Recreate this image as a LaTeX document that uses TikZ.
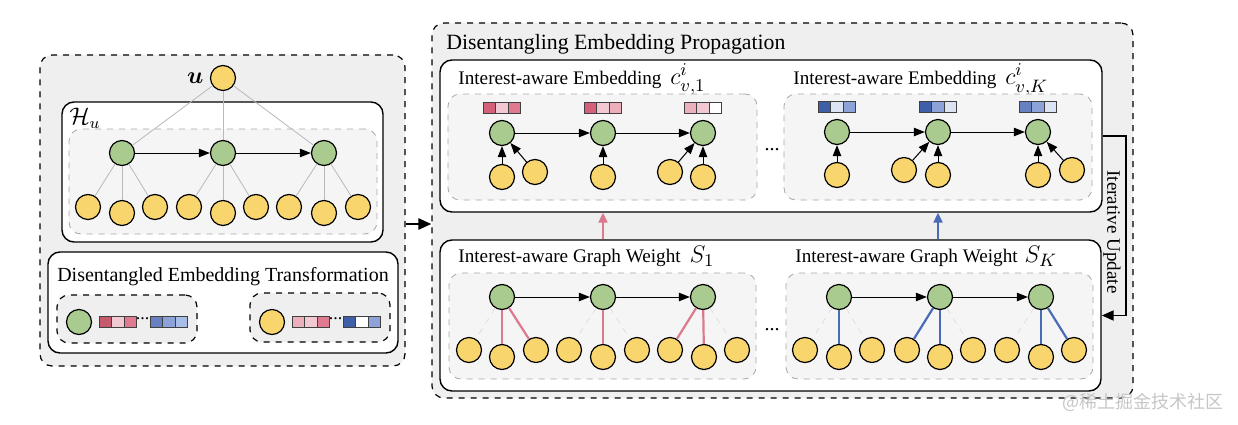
\documentclass[tikz,border=0pt]{standalone}
\usepackage{amsmath}
\usepackage{fontspec}
\setmainfont{Liberation Serif}
\newfontfamily\cjkfont{Noto Sans CJK SC}
\usetikzlibrary{arrows.meta, calc, fit, positioning}

\definecolor{ylwfill}{HTML}{F9D56E}
\definecolor{grnfill}{HTML}{A9CB8F}
\definecolor{panelfill}{HTML}{EFEFEF}
\definecolor{groupfill}{HTML}{F5F5F5}
\definecolor{pinkline}{HTML}{DB7A8C}
\definecolor{blueline}{HTML}{4A6CB8}
\definecolor{rdark}{HTML}{D4607A}
\definecolor{rmid}{HTML}{E07A8F}
\definecolor{rsoft}{HTML}{ECB0BC}
\definecolor{rlight}{HTML}{F2C9D2}
\definecolor{rdeep}{HTML}{C45A6C}
\definecolor{bdark}{HTML}{3F5FA8}
\definecolor{bmid}{HTML}{8CA2D8}
\definecolor{blight}{HTML}{DCE3F2}
\definecolor{bsoft}{HTML}{A8BDE8}
\definecolor{bplain}{HTML}{6680C0}

\tikzset{
  ynode/.style={circle, draw, line width=0.6pt, fill=ylwfill, minimum size=12.5pt, inner sep=0pt},
  gnode/.style={circle, draw, line width=0.6pt, fill=grnfill, minimum size=12.5pt, inner sep=0pt},
  panel/.style={draw, dashed, line width=0.6pt, rounded corners=6pt, fill=panelfill, inner sep=0pt},
  whitebox/.style={draw, line width=0.7pt, rounded corners=6pt, fill=white, inner sep=0pt},
  groupbox/.style={draw=gray!70, dashed, line width=0.4pt, rounded corners=6pt, fill=groupfill, inner sep=0pt},
  itembox/.style={draw, dashed, line width=0.6pt, rounded corners=6pt, fill=panelfill, inner sep=0pt},
  flow/.style={-{Triangle[length=5.5pt,width=4.2pt]}, line width=0.5pt},
  lightedge/.style={gray!55, line width=0.4pt},
  faintedge/.style={gray!30, dashed, line width=0.3pt},
  pinkedge/.style={pinkline, line width=1.1pt},
  blueedge/.style={blueline, line width=1.1pt},
  label/.style={font=\fontsize{9.6}{11}\selectfont, anchor=west, inner sep=0pt},
  mathlabel/.style={font=\fontsize{13}{15}\selectfont, anchor=base west, inner sep=0pt},
}

% three embedding cells centred above a node
\newcommand{\embcells}[5]{%
  \foreach \c [count=\k from 0] in {#3,#4,#5}
    \filldraw[fill=\c, draw=black!75, line width=0.3pt] ($(#1,#2)+(\k*12.5-18.75,0)$) rectangle ++(12.5,11);
}

\begin{document}
\begin{tikzpicture}[x=0.5pt, y=-0.5pt]
  \useasboundingbox (0,0) rectangle (1238,424);

  % ---- left panel: hierarchy and transformation
  \node[panel, fit={(40,55) (405,366)}] (leftpanel) {};
  \node[whitebox, fit={(62,102) (383,242)}] (hbox) {};
  \node[groupbox, fit={(69,129) (377,234)}] (hgroup) {};
  \node[font=\fontsize{12}{14}\selectfont] (hlabel) at (85,118) {$\mathcal{H}_u$};

  \node[ynode] (u) at (223,78) {};
  \node[left=3pt of u, font=\fontsize{12}{14}\selectfont, inner sep=0pt] (ulabel) {$\boldsymbol{u}$};
  \foreach \i/\x in {1/122, 2/223, 3/324}
    \node[gnode] (h\i) at (\x,153) {};
  \foreach \j/\x/\y in {1/88/207, 2/122/213, 3/155/207, 4/189/207, 5/223/213,
                        6/256/207, 7/289/207, 8/324/213, 9/358/207}
    \node[ynode] (hy\j) at (\x,\y) {};
  \foreach \i in {1,2,3}
    \draw[lightedge] (u) -- (h\i);
  \foreach \j in {1,...,9} {
    \pgfmathtruncatemacro\p{int((\j-1)/3)+1}
    \draw[lightedge] (h\p) -- (hy\j);
  }
  \draw[flow] (h1) -- (h2);
  \draw[flow] (h2) -- (h3);

  \node[whitebox, fit={(48,252) (398,353)}] (tbox) {};
  \node[font=\fontsize{10}{12}\selectfont] (ttitle) at (223,277) {Disentangled Embedding Transformation};
  \node[itembox, fit={(57,295) (197,343)}] (titem) {};
  \node[itembox, fit={(250,293) (390,342)}] (uitem) {};
  \node[gnode] (tg) at (79,322) {};
  \embcells{117.75}{316}{rdeep}{rlight}{rmid}
  \node[font=\fontsize{9}{10}\selectfont, inner sep=0pt] (tdots) at (142.5,319) {...};
  \embcells{168.75}{316}{bplain}{bmid}{bsoft}
  \node[ynode] (ty) at (272,322) {};
  \embcells{310.75}{316}{rsoft}{rlight}{rmid}
  \node[font=\fontsize{9}{10}\selectfont, inner sep=0pt] (udots) at (335.5,319) {...};
  \embcells{361.75}{316}{bdark}{white}{bmid}

  % ---- right panel: propagation
  \node[panel, fit={(432,23) (1133,398)}] (rightpanel) {};
  \node[anchor=west, inner sep=0pt, font=\fontsize{10.9}{13}\selectfont] (ptitle) at (446,44) {Disentangling Embedding Propagation};

  \draw[line width=1.2pt, -{Triangle[length=6.5pt,width=5.5pt]}]
    ($(leftpanel.east)+(0,13.5)$) -- ($(rightpanel.west)+(0,13.5)$);

  \node[whitebox, fit={(440,60) (1102,212)}] (ebox) {};
  \node[whitebox, fit={(440,240) (1101,391)}] (wbox) {};

  \node[label] (e1title) at (458,80) {Interest-aware Embedding};
  \node[mathlabel] (e1math) at ($(e1title.base east)+(8,0)$) {$c^i_{v,1}$};
  \node[label] (eKtitle) at (793,80) {Interest-aware Embedding};
  \node[mathlabel] (eKmath) at ($(eKtitle.base east)+(8,0)$) {$c^i_{v,K}$};
  \node[label] (w1title) at (458,258) {Interest-aware Graph Weight};
  \node[mathlabel] (w1math) at ($(w1title.base east)+(8,0)$) {$S_1$};
  \node[label] (wKtitle) at (795,258) {Interest-aware Graph Weight};
  \node[mathlabel] (wKmath) at ($(wKtitle.base east)+(6,0)$) {$S_K$};

  \node[groupbox, fit={(448,94) (757,200)}] (e1group) {};
  \node[groupbox, fit={(784,94) (1092,200)}] (eKgroup) {};
  \node[groupbox, fit={(449,273) (756,379)}] (w1group) {};
  \node[groupbox, fit={(786,273) (1093,379)}] (wKgroup) {};
  \node[font=\fontsize{10}{12}\selectfont, inner sep=0pt] (edots) at (772,150) {...};
  \node[font=\fontsize{10}{12}\selectfont, inner sep=0pt] (wdots) at (772,330) {...};

  % interest 1 embeddings
  \foreach \i/\x in {1/502, 2/603, 3/703}
    \node[gnode] (e1\i) at (\x,133) {};
  \embcells{502}{102}{rdark}{rlight}{rmid}
  \embcells{603}{102}{rdark}{rlight}{rsoft}
  \embcells{703}{102}{rsoft}{rlight}{white}
  \foreach \n/\x/\y in {a/502/177, b/535/172, c/603/177, d/670/172, e/703/177}
    \node[ynode] (ey1\n) at (\x,\y) {};
  \draw[flow] (e11) -- (e12);
  \draw[flow] (e12) -- (e13);
  \draw[flow] (ey1a) -- (e11);
  \draw[flow] (ey1b) -- (e11);
  \draw[flow] (ey1c) -- (e12);
  \draw[flow] (ey1d) -- (e13);
  \draw[flow] (ey1e) -- (e13);

  % interest K embeddings
  \foreach \i/\x in {1/837, 2/938, 3/1038}
    \node[gnode] (eK\i) at (\x,132) {};
  \embcells{837}{101}{bdark}{blight}{bmid}
  \embcells{938}{101}{bdark}{bmid}{blight}
  \embcells{1038}{101}{bplain}{bmid}{blight}
  \foreach \n/\x/\y in {a/837/175, b/904/170, c/938/175, d/1038/175, e/1072/170}
    \node[ynode] (eyK\n) at (\x,\y) {};
  \draw[flow] (eK1) -- (eK2);
  \draw[flow] (eK2) -- (eK3);
  \draw[flow] (eyKa) -- (eK1);
  \draw[flow] (eyKb) -- (eK2);
  \draw[flow] (eyKc) -- (eK2);
  \draw[flow] (eyKd) -- (eK3);
  \draw[flow] (eyKe) -- (eK3);

  % interest 1 graph weights
  \foreach \i/\x in {1/502, 2/603, 3/703}
    \node[gnode] (w1\i) at (\x,297) {};
  \foreach \j/\x/\y in {1/469/350, 2/502/357, 3/536/350, 4/569/350, 5/603/357,
                        6/637/350, 7/670/350, 8/704/357, 9/737/350}
    \node[ynode] (wy1\j) at (\x,\y) {};
  \foreach \p/\j/\s in {1/1/faintedge, 1/2/pinkedge, 1/3/pinkedge,
                        2/4/faintedge, 2/5/pinkedge, 2/6/faintedge,
                        3/7/pinkedge, 3/8/pinkedge, 3/9/faintedge}
    \draw[\s] (w1\p) -- (wy1\j);
  \draw[flow] (w11) -- (w12);
  \draw[flow] (w12) -- (w13);

  % interest K graph weights
  \foreach \i/\x in {1/839, 2/940, 3/1041}
    \node[gnode] (wK\i) at (\x,297) {};
  \foreach \j/\x/\y in {1/805/350, 2/839/357, 3/872/350, 4/907/350, 5/940/357,
                        6/973/350, 7/1007/350, 8/1041/357, 9/1074/350}
    \node[ynode] (wyK\j) at (\x,\y) {};
  \foreach \p/\j/\s in {1/1/faintedge, 1/2/blueedge, 1/3/faintedge,
                        2/4/blueedge, 2/5/blueedge, 2/6/faintedge,
                        3/7/faintedge, 3/8/blueedge, 3/9/blueedge}
    \draw[\s] (wK\p) -- (wyK\j);
  \draw[flow] (wK1) -- (wK2);
  \draw[flow] (wK2) -- (wK3);

  % weights feed embeddings
  \draw[pinkline, line width=1.1pt, -{Triangle[length=5pt,width=4.5pt]}] (wbox.north -| e12) -- (ebox.south -| e12);
  \draw[blueline, line width=1.1pt, -{Triangle[length=5pt,width=4.5pt]}] (wbox.north -| eK2) -- (ebox.south -| eK2);

  % iterative update loop
  \draw[line width=0.9pt, -{Triangle[length=6pt,width=5pt]}] (ebox.east) -- ++(23,0) |- (wbox.east);
  \node[rotate=-90, font=\fontsize{9.5}{11}\selectfont, inner sep=0pt] (iterlabel) at (1112,232) {Iterative Update};

  \node[anchor=east, text=gray!45, font=\cjkfont\fontsize{9}{11}\selectfont, inner sep=0pt] (mark) at (1224,402) {@稀土掘金技术社区};
\end{tikzpicture}
\end{document}
